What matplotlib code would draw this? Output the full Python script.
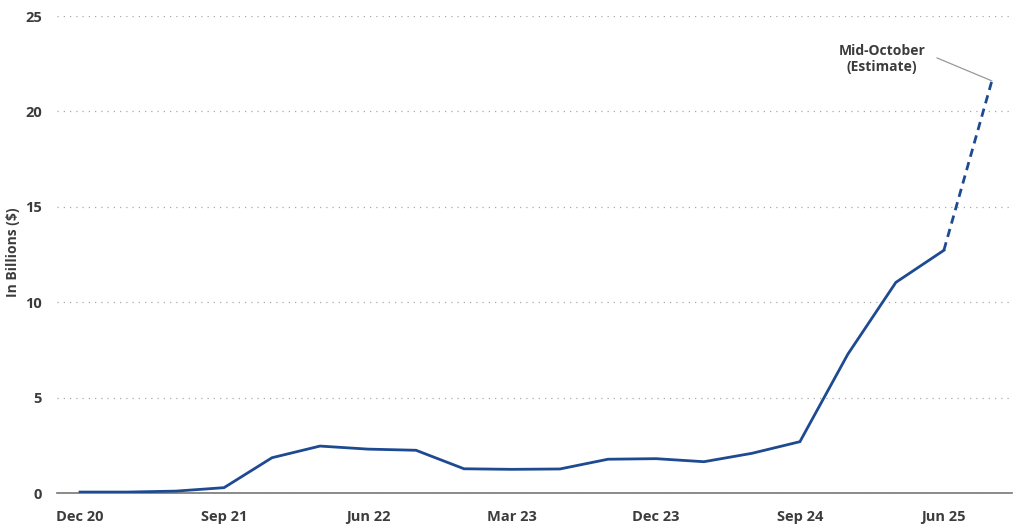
import matplotlib.pyplot as plt
import numpy as np


# =====================================================
# DATA
# =====================================================

quarters = [
    "Dec 20", "Mar 21", "Jun 21", "Sep 21",
    "Dec 21", "Mar 22", "Jun 22", "Sep 22",
    "Dec 22", "Mar 23", "Jun 23", "Sep 23",
    "Dec 23", "Mar 24", "Jun 24", "Sep 24",
    "Dec 24", "Mar 25", "Jun 25"
]

values = [
    0.05, 0.05, 0.1, 0.28,
    1.85, 2.46, 2.3, 2.24,
    1.27, 1.24, 1.26, 1.77,
    1.8, 1.64, 2.08, 2.69,
    7.28, 11.04, 12.72
]

estimate_label = "Mid-October\n(Estimate)"
estimate_value = 21.6

tick_labels = ["Dec 20", "Sep 21", "Jun 22", "Mar 23", "Dec 23", "Sep 24", "Jun 25"]


# =====================================================
# STYLE
# =====================================================

plt.rcParams["font.family"] = ["Open Sans", "DejaVu Sans"]

line_color = "#1d4a91"
text_color = "#3c3c3c"


fig = plt.figure(figsize=(10.24, 5.30), dpi=100)

ax = fig.add_axes([0.0557, 0.0698, 0.9326, 0.9])


x = np.arange(len(quarters))

ax.plot(
    x,
    values,
    color=line_color,
    linewidth=2.0,
    solid_joinstyle="miter",
    zorder=3
)

# estimate segment (dashed)
x_est = len(quarters)

ax.plot(
    [x[-1], x_est],
    [values[-1], estimate_value],
    color=line_color,
    linewidth=2.0,
    linestyle=(0, (3, 2)),
    zorder=3
)

# label text
ax.annotate(
    estimate_label,
    xy=(x_est, estimate_value),
    xytext=(-110, 22),
    textcoords="offset pixels",
    ha="center",
    va="center",
    fontsize=10,
    fontweight="bold",
    color=text_color,
    linespacing=1.25
)

# connector line
ax.annotate(
    "",
    xy=(x_est, estimate_value),
    xytext=(-55, 23),
    textcoords="offset pixels",
    arrowprops=dict(
        arrowstyle="-",
        color="#999999",
        linewidth=0.9,
        shrinkA=0,
        shrinkB=0
    )
)


# =====================================================
# AXES
# =====================================================

ax.set_xlim(-0.48, 19.42)
ax.set_ylim(0, 25)

ax.set_yticks([0, 5, 10, 15, 20, 25])

tick_pos = [quarters.index(t) for t in tick_labels]
ax.set_xticks(tick_pos)
ax.set_xticklabels(tick_labels)

ax.tick_params(
    axis="both",
    length=0,
    labelsize=10.5,
    labelcolor=text_color
)
ax.tick_params(axis="x", pad=12)
ax.tick_params(axis="y", pad=11)

for lab in ax.get_xticklabels() + ax.get_yticklabels():
    lab.set_fontweight("bold")

ax.yaxis.grid(
    True,
    linestyle=(0, (1, 4)),
    color="#aaaaaa",
    linewidth=0.9
)

ax.set_axisbelow(True)

for side in ["top", "right", "left"]:
    ax.spines[side].set_visible(False)

ax.spines["bottom"].set_color("#777777")
ax.spines["bottom"].set_linewidth(1.2)

ax.set_ylabel(
    "In Billions ($)",
    fontsize=10,
    fontweight="bold",
    color=text_color
)
ax.yaxis.set_label_coords(-0.039, 0.505)


fig.savefig("out.png", dpi=100)

plt.close()
